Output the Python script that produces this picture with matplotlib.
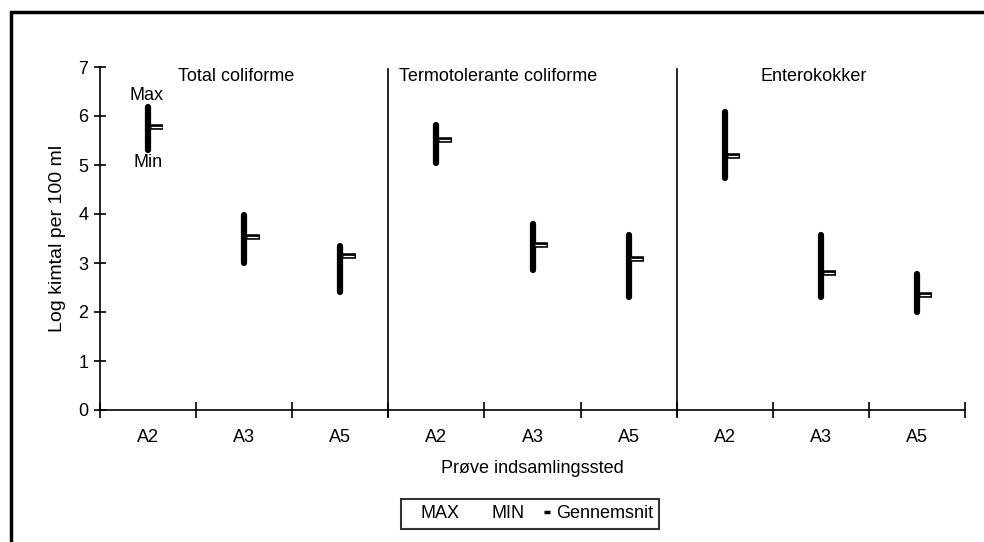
import matplotlib
matplotlib.use("Agg")
import matplotlib.pyplot as plt
from matplotlib.lines import Line2D
from matplotlib.patches import Rectangle

plt.rcParams["font.family"] = ["Liberation Sans", "DejaVu Sans"]

groups = ["Total coliforme", "Termotolerante coliforme", "Enterokokker"]
sites = ["A2", "A3", "A5"]

max_vals = [6.18, 3.98, 3.35, 5.82, 3.80, 3.57, 6.08, 3.57, 2.78]
min_vals = [5.30, 3.00, 2.41, 5.04, 2.86, 2.30, 4.73, 2.30, 2.00]
mean_vals = [5.78, 3.53, 3.15, 5.51, 3.37, 3.08, 5.18, 2.80, 2.35]

labels = sites * len(groups)
x = list(range(len(labels)))

FS = 13

fig = plt.figure(figsize=(9.84, 5.42), dpi=100)
ax = fig.add_axes([100 / 984, 1 - 410 / 542, 865 / 984, 343 / 542])

# min-max bars
for xi, lo, hi in zip(x, min_vals, max_vals):
    ax.plot([xi, xi], [lo, hi], color="black", lw=4.5, solid_capstyle="round")

# mean ticks (outlined)
for xi, m in zip(x, mean_vals):
    ax.plot([xi, xi + 0.16], [m, m], color="black", lw=4, solid_capstyle="butt")
    ax.plot([xi + 0.03, xi + 0.14], [m, m], color="white", lw=0.9, solid_capstyle="butt")

# group separators
for b in [2.5, 5.5]:
    ax.plot([b, b], [-0.12, 6.96], color="black", lw=1.2, clip_on=False)

# group titles
title_x = [0.31, 2.61, 6.37]
for tx, g in zip(title_x, groups):
    ax.text(tx, 6.8, g, ha="left", va="center", fontsize=FS)

ax.text(-0.02, 6.41, "Max", ha="center", va="center", fontsize=FS)
ax.text(0.0, 5.06, "Min", ha="center", va="center", fontsize=FS)

ax.set_xlim(-0.5, len(labels) - 0.5)
ax.set_ylim(0, 7)
ax.set_yticks(range(0, 8))
ax.set_xticks([i - 0.5 for i in range(len(labels) + 1)])
ax.set_xticklabels([])
ax.set_xticks(x, minor=True)
ax.set_xticklabels(labels, minor=True)
ax.tick_params(axis="x", which="minor", length=0, pad=14, labelsize=FS)
ax.tick_params(axis="x", which="major", direction="inout", length=12, width=1.2)
ax.tick_params(axis="y", direction="inout", length=9, width=1.2, labelsize=FS, pad=4)

for s in ["top", "right"]:
    ax.spines[s].set_visible(False)
for s in ["left", "bottom"]:
    ax.spines[s].set_linewidth(1.2)

ax.set_ylabel("Log kimtal per 100 ml", fontsize=14, labelpad=9)
ax.set_xlabel("Prøve indsamlingssted", fontsize=FS, labelpad=10)

handles = [
    Line2D([], [], color="none"),
    Line2D([], [], color="none"),
    Line2D([], [], color="black", marker="_", markersize=5, markeredgewidth=2.5, linestyle="none"),
]
leg = fig.legend(handles, ["MAX", "MIN", "Gennemsnit"], ncol=3, loc="center",
                 bbox_to_anchor=(530 / 984, 1 - 514 / 542), frameon=True, fancybox=False,
                 fontsize=FS, handlelength=0.5, handletextpad=0.25, columnspacing=1.0,
                 borderpad=0.35, borderaxespad=0)
leg.get_frame().set_edgecolor("black")
leg.get_frame().set_linewidth(1.5)

# outer frame (cut off at right and bottom)
fig.patches.append(Rectangle((11 / 984, -0.1), 1.2, 1 - 12 / 542 + 0.1, transform=fig.transFigure,
                             fill=False, edgecolor="black", lw=2.5))

fig.savefig("out.png", dpi=100)
